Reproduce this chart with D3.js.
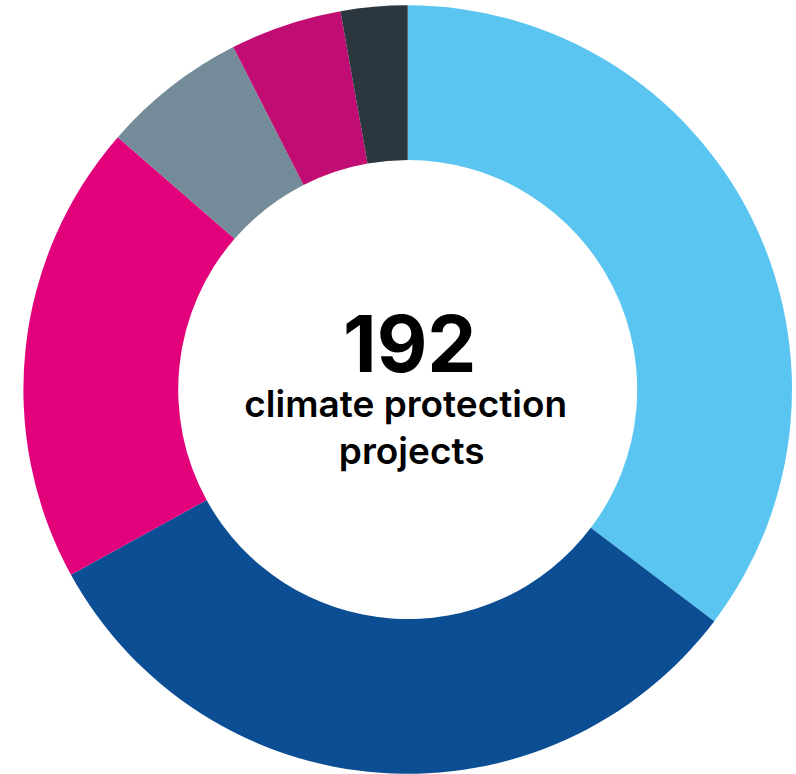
<!DOCTYPE html>
<html>
<head>
<meta charset="utf-8">
<script src="https://cdn.jsdelivr.net/npm/d3@7"></script>
<style>
  html, body { margin: 0; padding: 0; background: #fff; }
  svg { display: block; }
</style>
</head>
<body>
<svg id="chart" width="796" height="774"></svg>
<script>
const categories = ["A", "B", "C", "D", "E", "F"];
const values = [35.3, 31.7, 19.4, 6.1, 4.7, 2.8];
const colors = ["#5BC5F2", "#0C4E94", "#E3007B", "#748B99", "#C10C73", "#2C363E"];
const totalLabel = "192";
const subLabel = ["climate protection", "projects"];

const svg = d3.select("#chart");
const cx = 407.7, cy = 389.5, outerR = 384.3, innerR = 229.5;

const pie = d3.pie().sort(null).value(d => d.value);
const arc = d3.arc().innerRadius(innerR).outerRadius(outerR);
const color = d3.scaleOrdinal().domain(categories).range(colors);

const data = categories.map((c, i) => ({ cat: c, value: values[i] }));

const g = svg.append("g").attr("transform", `translate(${cx},${cy})`);
g.selectAll("path")
  .data(pie(data))
  .join("path")
  .attr("d", arc)
  .attr("fill", d => color(d.data.cat));

g.append("text")
  .attr("x", 2)
  .attr("y", -18)
  .attr("text-anchor", "middle")
  .attr("font-family", "Inter, 'Liberation Sans', sans-serif")
  .attr("font-weight", 700)
  .attr("font-size", 78)
  .attr("fill", "#000")
  .text(totalLabel);

g.append("text")
  .attr("text-anchor", "middle")
  .attr("font-family", "Inter, 'Liberation Sans', sans-serif")
  .attr("font-weight", 600)
  .attr("font-size", 37)
  .attr("fill", "#000")
  .selectAll("tspan")
  .data(subLabel)
  .join("tspan")
  .attr("x", (d, i) => i === 0 ? -2 : 4)
  .attr("y", (d, i) => i === 0 ? 27.5 : 74.5)
  .text(d => d);
</script>
</body>
</html>
